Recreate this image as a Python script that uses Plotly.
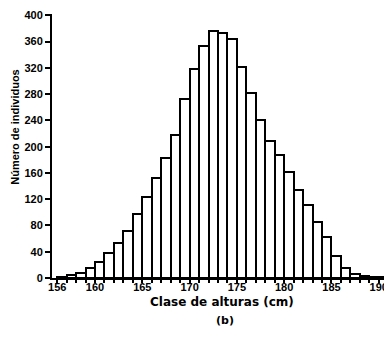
import plotly.graph_objects as go

alturas = list(range(156, 191))
individuos = [2, 4, 7, 15, 25, 38, 54, 71, 97, 124, 153, 182, 218, 273, 318, 353,
              376, 373, 364, 322, 282, 241, 208, 187, 161, 134, 111, 86, 62, 33,
              15, 6, 3, 2, 1]
x_ticks = [156, 160, 165, 170, 175, 180, 185, 190]
y_ticks = list(range(0, 401, 40))

TICKFONT = "Liberation Sans"
TITLEFONT = "DejaVu Sans"

fig = go.Figure(go.Bar(
    x=alturas, y=individuos, width=1, offset=0,
    marker=dict(color="white", line=dict(color="black", width=2)),
))

# The page body has an 8px default margin; the figure is sized to compensate.
fig.update_layout(
    width=384, height=318,
    margin=dict(l=44, r=1, t=3, b=48),
    plot_bgcolor="white", paper_bgcolor="white",
    showlegend=False, bargap=0,
    font=dict(family=TICKFONT, color="black", size=10),
    xaxis=dict(
        range=[155.45, 191.3], tickmode="array", tickvals=x_ticks,
        ticktext=[str(v) for v in x_ticks],
        ticks="outside", ticklen=3, tickwidth=1.5, tickcolor="black",
        showline=True, linecolor="black", linewidth=2,
        showgrid=False, zeroline=False,
        ticklabeloverflow="allow", ticklabelstandoff=-5,
        tickfont=dict(family=TICKFONT, size=11, color="black", weight="bold"),
        minor=dict(tick0=155, dtick=1, ticks="outside", ticklen=3,
                   tickwidth=1.5, tickcolor="black"),
    ),
    yaxis=dict(
        range=[0, 402], tickmode="array", tickvals=y_ticks,
        ticks="outside", ticklen=5, tickwidth=2, tickcolor="black",
        showline=True, linecolor="black", linewidth=2,
        showgrid=False, zeroline=False,
        ticklabeloverflow="allow",
        tickfont=dict(family=TICKFONT, size=11, color="black", weight="bold"),
    ),
    annotations=[
        dict(text="Clase de alturas (cm)", xref="paper", yref="paper",
             x=0.5, y=-0.09, xanchor="center", yanchor="middle", showarrow=False,
             font=dict(family=TITLEFONT, size=12, color="black", weight="bold")),
        dict(text="(b)", xref="paper", yref="paper",
             x=0.51, y=-0.161, xanchor="center", yanchor="middle", showarrow=False,
             font=dict(family=TITLEFONT, size=11, color="black", weight="bold")),
        dict(text="Número de individuos", xref="paper", yref="paper",
             x=-0.109, y=0.573, xanchor="center", yanchor="middle", showarrow=False,
             textangle=-90,
             font=dict(family=TICKFONT, size=11, color="black", weight="bold")),
    ],
)

fig.write_html("out.html")
